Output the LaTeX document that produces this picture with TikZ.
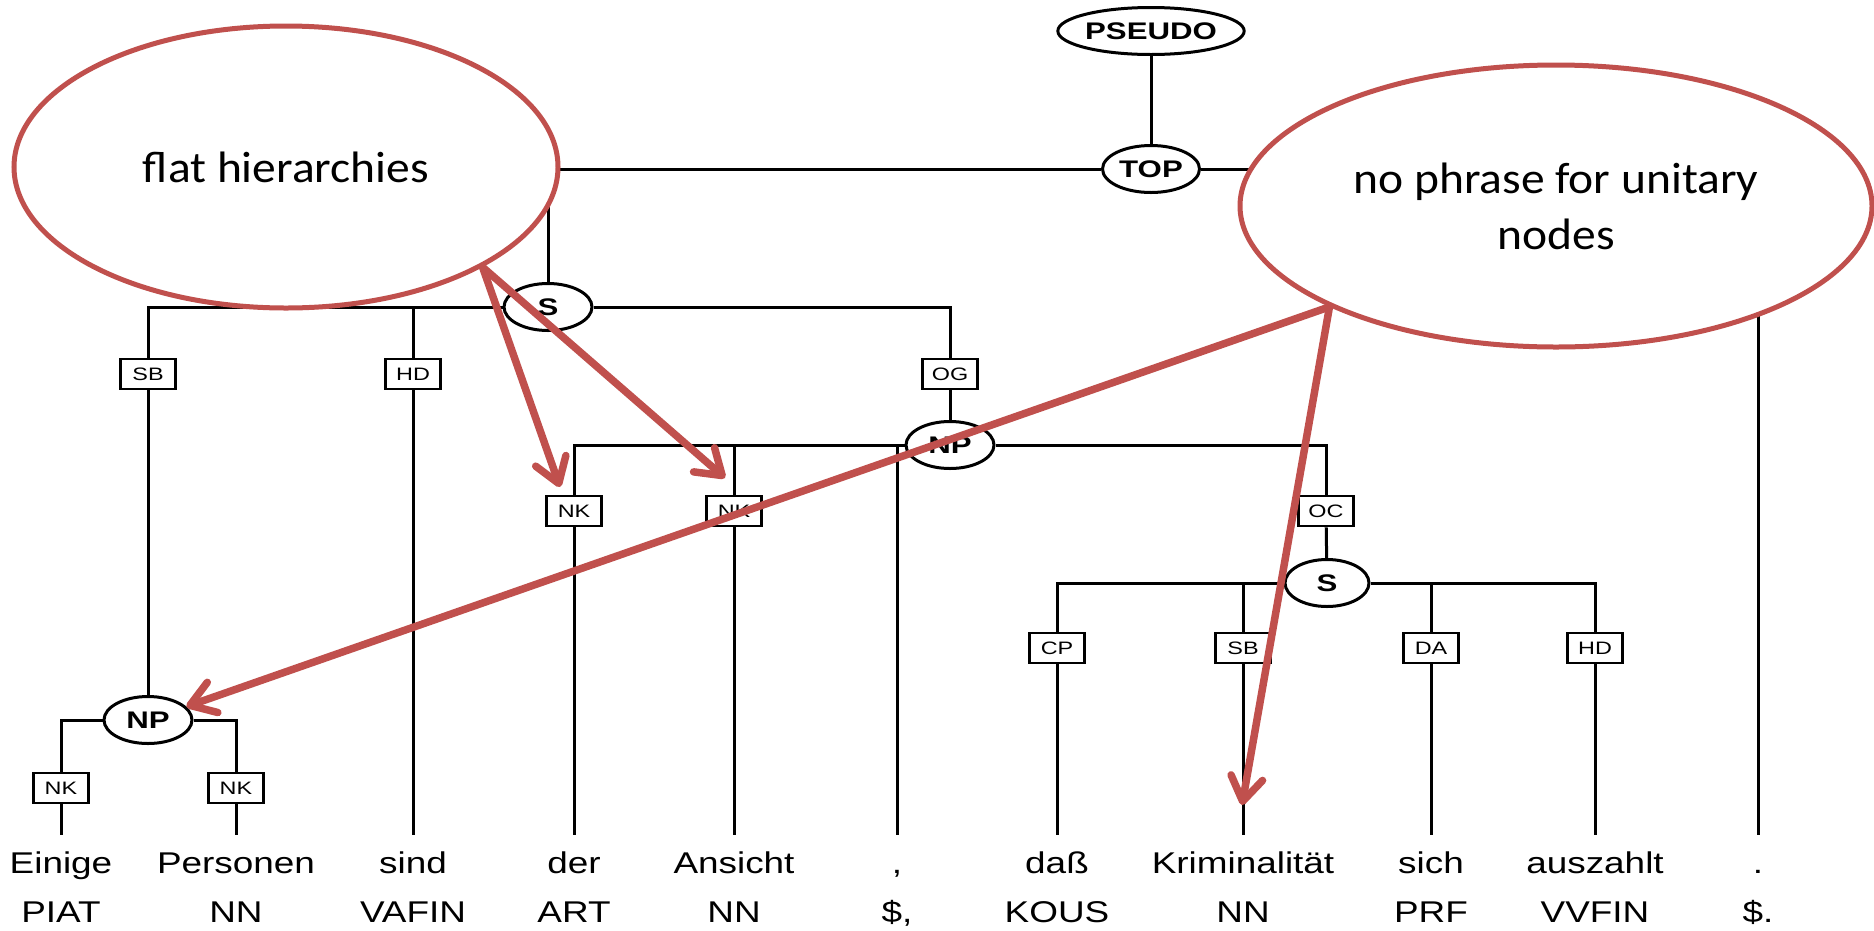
\documentclass[tikz,border=0pt]{standalone}
\usepackage{fontspec}
\usepackage{graphicx}
\usetikzlibrary{shapes.geometric,arrows.meta}
\newfontfamily\arialf{Liberation Sans}
\newfontfamily\calibf{Carlito}
\definecolor{ppred}{HTML}{C0504D}
\newcommand\sx[2]{\scalebox{#1}[1]{#2}}
\begin{document}
\begin{tikzpicture}[x=1pt,y=-1pt,
  tline/.style={line width=3pt},
  catnode/.style={ellipse, draw, line width=3pt, fill=white, inner sep=0pt,
    minimum width=88pt, minimum height=47pt,
    font=\arialf\bfseries\fontsize{24}{24}\selectfont},
  fnbox/.style={rectangle, draw, line width=2.6pt, fill=white, inner sep=0pt,
    minimum width=55pt, minimum height=30pt,
    font=\arialf\fontsize{18}{18}\selectfont},
  wordnode/.style={anchor=base, inner xsep=0pt, inner ysep=16pt, text height=22pt,
    text depth=0pt, font=\arialf\fontsize{30}{30}\selectfont},
  tagnode/.style={anchor=base, inner sep=0pt, font=\arialf\fontsize{30}{30}\selectfont},
  bubble/.style={ellipse, draw=ppred, line width=5pt, fill=white, inner sep=0pt,
    align=center, font=\calibf\fontsize{44}{56}\selectfont},
  callout/.style={draw=ppred, line width=7.5pt, line cap=round,
    -{Straight Barb[length=24pt,width=32pt,round]}},
]
\useasboundingbox (0,0) rectangle (1874,930);

% category nodes
\node[catnode, minimum width=158pt] (pseudo) at (1151,31) {\sx{1.3}{PSEUDO}};
\node[catnode, minimum width=97pt] (top) at (1151,169) {\sx{1.3}{TOP}};
\node[catnode] (s1) at (548,307) {\sx{1.3}{S}};
\node[catnode] (np2) at (950,445) {\sx{1.3}{NP}};
\node[catnode, minimum width=84pt] (s2) at (1327,583) {\sx{1.3}{S}};
\node[catnode] (np1) at (148,720) {\sx{1.3}{NP}};

% function boxes
\node[fnbox] (sb1) at (148,374) {\sx{1.3}{SB}};
\node[fnbox] (hd1) at (413,374) {\sx{1.3}{HD}};
\node[fnbox] (og) at (950,374) {\sx{1.3}{OG}};
\node[fnbox] (nk3) at (574,511) {\sx{1.3}{NK}};
\node[fnbox] (nk4) at (734,511) {\sx{1.3}{NK}};
\node[fnbox] (oc) at (1326,511) {\sx{1.3}{OC}};
\node[fnbox] (cp) at (1057,648) {\sx{1.3}{CP}};
\node[fnbox] (sb2) at (1243,648) {\sx{1.3}{SB}};
\node[fnbox] (da) at (1431,648) {\sx{1.3}{DA}};
\node[fnbox] (hd2) at (1595,648) {\sx{1.3}{HD}};
\node[fnbox] (nk1) at (61,788) {\sx{1.3}{NK}};
\node[fnbox] (nk2) at (236,788) {\sx{1.3}{NK}};

% words
\node[wordnode] (w1) at (61,873) {\sx{1.23}{Einige}};
\node[wordnode] (w2) at (236,873) {\sx{1.23}{Personen}};
\node[wordnode] (w3) at (413,873) {\sx{1.23}{sind}};
\node[wordnode] (w4) at (574,873) {\sx{1.23}{der}};
\node[wordnode] (w5) at (734,873) {\sx{1.23}{Ansicht}};
\node[wordnode] (w6) at (897,873) {\sx{1.23}{,}};
\node[wordnode] (w7) at (1057,873) {\sx{1.23}{daß}};
\node[wordnode] (w8) at (1243,873) {\sx{1.23}{Kriminalität}};
\node[wordnode] (w9) at (1431,873) {\sx{1.23}{sich}};
\node[wordnode] (w10) at (1595,873) {\sx{1.23}{auszahlt}};
\node[wordnode] (w11) at (1758,873) {\sx{1.23}{.}};

% tags
\node[tagnode] (p1) at (61,922) {\sx{1.23}{PIAT}};
\node[tagnode] (p2) at (236,922) {\sx{1.23}{NN}};
\node[tagnode] (p3) at (413,922) {\sx{1.23}{VAFIN}};
\node[tagnode] (p4) at (574,922) {\sx{1.23}{ART}};
\node[tagnode] (p5) at (734,922) {\sx{1.23}{NN}};
\node[tagnode] (p6) at (897,922) {\sx{1.23}{\$,}};
\node[tagnode] (p7) at (1057,922) {\sx{1.23}{KOUS}};
\node[tagnode] (p8) at (1243,922) {\sx{1.23}{NN}};
\node[tagnode] (p9) at (1431,922) {\sx{1.23}{PRF}};
\node[tagnode] (p10) at (1595,922) {\sx{1.23}{VVFIN}};
\node[tagnode] (p11) at (1758,922) {\sx{1.23}{\$.}};

% tree edges
\draw[tline] (pseudo) -- (top);
\draw[tline] (top) -| (s1);
\draw[tline] (top) -| (w11.north);
\draw[tline] (s1) -| (sb1);
\draw[tline] (s1) -| (hd1);
\draw[tline] (s1) -| (og);
\draw[tline] (sb1) -- (np1);
\draw[tline] (np1) -| (nk1);
\draw[tline] (np1) -| (nk2);
\draw[tline] (nk1) -- (w1.north);
\draw[tline] (nk2) -- (w2.north);
\draw[tline] (hd1) -- (w3.north);
\draw[tline] (og) -- (np2);
\draw[tline] (np2) -| (nk3);
\draw[tline] (np2) -| (nk4);
\draw[tline] (np2) -| (w6.north);
\draw[tline] (np2) -| (oc);
\draw[tline] (nk3) -- (w4.north);
\draw[tline] (nk4) -- (w5.north);
\draw[tline] (oc) -- (s2);
\draw[tline] (s2) -| (cp);
\draw[tline] (s2) -| (sb2);
\draw[tline] (s2) -| (da);
\draw[tline] (s2) -| (hd2);
\draw[tline] (cp) -- (w7.north);
\draw[tline] (sb2) -- (w8.north);
\draw[tline] (da) -- (w9.north);
\draw[tline] (hd2) -- (w10.north);

% callout bubbles
\node[bubble, minimum width=544pt, minimum height=282pt] (flat) at (286,167)
  {\sx{1.08}{flat hierarchies}};
\node[bubble, minimum width=632pt, minimum height=282pt] (nophr) at (1556,206)
  {\sx{1.08}{no phrase for unitary}\\\sx{1.08}{nodes}};

% arrow targets
\coordinate (t1) at (560,487);
\coordinate (t2) at (725,478);
\coordinate (t4) at (1242,805);

\draw[callout] (flat.-27.5) -- (t1);
\draw[callout] (flat.-27.5) -- (t2);
\draw[callout] (nophr.-156) -- (np1);
\draw[callout] (nophr.-156) -- (t4);
\end{tikzpicture}
\end{document}
